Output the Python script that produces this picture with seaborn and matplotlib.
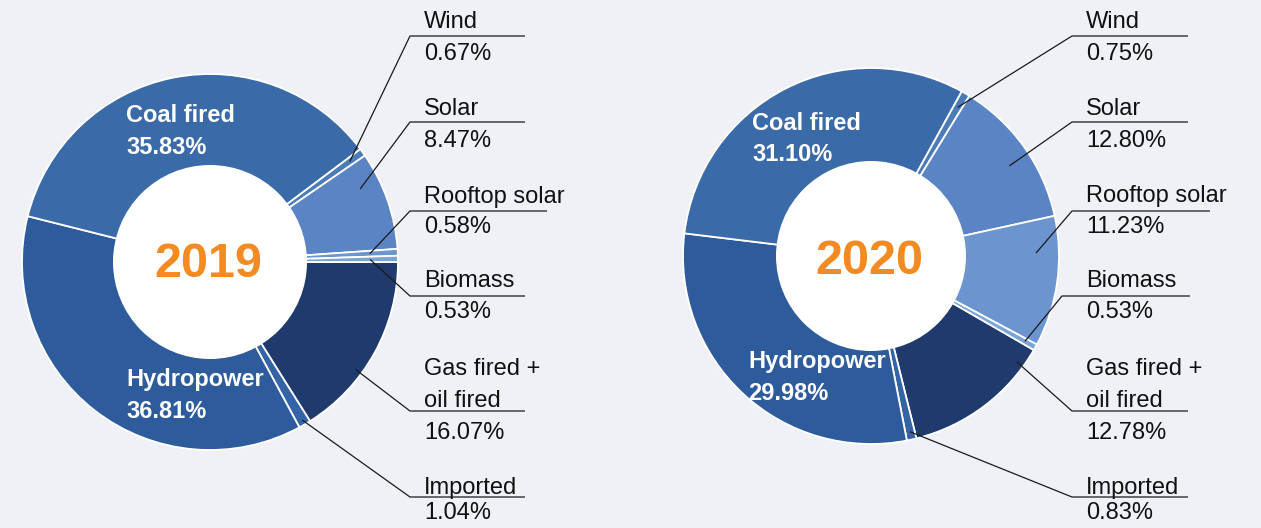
import numpy as np
import matplotlib
matplotlib.use("Agg")
import matplotlib.pyplot as plt
import seaborn as sns
from matplotlib.patches import Circle

# Data (share of electricity generation, %)
sources = ["Gas fired + oil fired", "Imported", "Hydropower", "Coal fired",
           "Wind", "Solar", "Rooftop solar", "Biomass"]
share_2019 = [16.07, 1.04, 36.81, 35.83, 0.67, 8.47, 0.58, 0.53]
share_2020 = [12.78, 0.83, 29.98, 31.10, 0.75, 12.80, 11.23, 0.53]
years = ["2019", "2020"]

colors = ["#1f3b6e", "#3464a6", "#2d5b9c", "#3a6ba8",
          "#4b7cb8", "#5b84c5", "#6c94ce", "#7ba4d6"]
bg = "#eff1f6"
orange = "#f38a22"

W, H = 1261, 528

sns.set_style("white", {"axes.facecolor": bg, "figure.facecolor": bg})
plt.rcParams["font.family"] = ["Liberation Sans", "DejaVu Sans"]

def Y(y):
    return H - y

# label names shown outside the ring
outer_names = {
    "Gas fired + oil fired": ["Gas fired +", "oil fired"],
    "Imported": ["Imported"],
    "Wind": ["Wind"],
    "Solar": ["Solar"],
    "Rooftop solar": ["Rooftop solar"],
    "Biomass": ["Biomass"],
}

# layout per chart: centre, start angle, label positions (pixels from top)
charts = [
    dict(year="2019", values=share_2019, cx=210, cy=262, start=0,
         r_out=188, r_in=97, year_base=277, text_x=424,
         inner={"Coal fired": (126, 122, 154), "Hydropower": (126, 386, 418)},
         outer={
             # name baselines, line y, pct baseline, elbow x, line end x, frac, r_end
             "Wind": ([28], 36, 60, 410, 525, 0.5, 172),
             "Solar": ([115], 122, 147, 410, 525, 0.72, 167),
             "Rooftop solar": ([203], 211, 233, 410, 547, 0.5, 160),
             "Biomass": ([287], 296, 318, 410, 525, 0.5, 160),
             "Gas fired + oil fired": ([375, 407], 411, 439, 410, 525, 0.37, 181),
             "Imported": ([494], 497, 519, 410, 525, 0.5, 183),
         }),
    dict(year="2020", values=share_2020, cx=871, cy=256, start=-30,
         r_out=188, r_in=95, year_base=274, text_x=1086,
         inner={"Coal fired": (752, 130, 161), "Hydropower": (748, 368, 400)},
         outer={
             "Wind": ([28], 36, 60, 1072, 1188, 0.5, 172),
             "Solar": ([115], 122, 147, 1072, 1188, 0.45, 165),
             "Rooftop solar": ([202], 211, 233, 1072, 1210, 0.72, 165),
             "Biomass": ([287], 296, 318, 1062, 1190, 0.5, 176),
             "Gas fired + oil fired": ([375, 407], 411, 439, 1072, 1188, 0.87, 180),
             "Imported": ([494], 497, 519, 1072, 1188, 0.5, 180),
         }),
]

fig = plt.figure(figsize=(W / 100, H / 100), dpi=100)
ax = fig.add_axes([0, 0, 1, 1])

for ch in charts:
    cx, cy = ch["cx"], Y(ch["cy"])
    wedges, _ = ax.pie(ch["values"], colors=colors, startangle=ch["start"],
                       counterclock=False, radius=ch["r_out"], center=(cx, cy),
                       wedgeprops=dict(edgecolor="white", linewidth=1.3),
                       frame=True)
    ax.add_patch(Circle((cx, cy), ch["r_in"], facecolor="white",
                        edgecolor="none", zorder=3))
    ax.text(cx - 2, Y(ch["year_base"]), ch["year"], color=orange,
            fontsize=35, fontweight="bold", ha="center", va="baseline", zorder=4)

    # labels inside the ring
    for name, (tx, b1, b2) in ch["inner"].items():
        v = ch["values"][sources.index(name)]
        ax.text(tx, Y(b1), name, color="white", fontsize=17,
                fontweight="bold", va="baseline", zorder=4)
        ax.text(tx, Y(b2), f"{v:.2f}%", color="white", fontsize=17,
                fontweight="bold", va="baseline", zorder=4)

    # labels outside with leader lines
    for name, (bases, ly, pb, ex, x1, frac, r_end) in ch["outer"].items():
        i = sources.index(name)
        w = wedges[i]
        ang = np.deg2rad(w.theta1 + frac * (w.theta2 - w.theta1))
        px = cx + r_end * np.cos(ang)
        py = cy + r_end * np.sin(ang)
        ax.plot([px, ex, x1], [py, Y(ly), Y(ly)], color="#1a1a1a",
                lw=0.9, zorder=5, solid_capstyle="butt")
        for line, b in zip(outer_names[name], bases):
            ax.text(ch["text_x"], Y(b), line, color="#111111", fontsize=17,
                    va="baseline", zorder=4)
        ax.text(ch["text_x"], Y(pb), f"{ch['values'][i]:.2f}%",
                color="#111111", fontsize=17, va="baseline", zorder=4)

ax.set_xlim(0, W)
ax.set_ylim(0, H)
ax.set_aspect("equal", adjustable="box")
ax.axis("off")

fig.savefig("out.png", dpi=100, facecolor=bg)
